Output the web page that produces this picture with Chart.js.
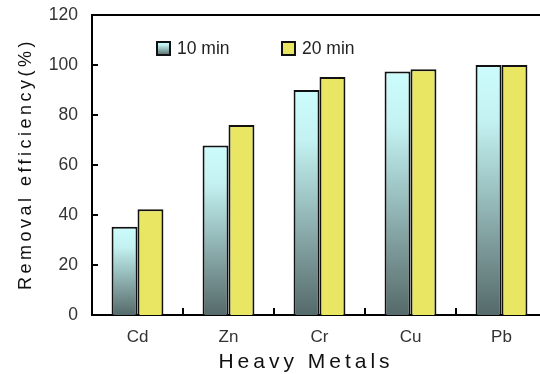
<!DOCTYPE html>
<html>
<head>
<meta charset="utf-8">
<script src="https://cdn.jsdelivr.net/npm/chart.js@4/dist/chart.umd.min.js"></script>
<style>
  html, body { margin: 0; padding: 0; background: #fff; overflow: hidden; }
  #wrap { width: 550px; height: 374px; }
</style>
</head>
<body>
<div id="wrap"><canvas id="c" width="550" height="374"></canvas></div>
<script>
// Removal efficiency of heavy metals after 10 and 20 minutes
const metals = ['Cd', 'Zn', 'Cr', 'Cu', 'Pb'];
const seriesLabels = ['10 min', '20 min'];
const removal10 = [35.3, 67.8, 90.0, 97.4, 100];
const removal20 = [42.3, 76.0, 95.2, 98.3, 100];
const yTicks = [0, 20, 40, 60, 80, 100, 120];

const FONT = '"Liberation Sans", Arial, Helvetica, sans-serif';
const YELLOW = '#e8e662';

// vertical cyan-to-slate fill spanning a box from top to bottom
function slateFill(ctx, top, bottom) {
  const g = ctx.createLinearGradient(0, top, 0, bottom);
  g.addColorStop(0, '#cdfcfc');
  g.addColorStop(0.22, '#c4f2f2');
  g.addColorStop(0.5, '#9cc2c2');
  g.addColorStop(0.78, '#759090');
  g.addColorStop(1, '#556a6a');
  return g;
}

function barGradient(context) {
  const chart = context.chart;
  const y = chart.scales.y;
  if (!chart.chartArea || !y) return '#9cc2c2';
  const v = context.raw;
  const top = y.getPixelForValue(v);
  const bottom = y.getPixelForValue(0);
  return slateFill(chart.ctx, top, bottom);
}

// inward tick marks, top frame line, legend and spaced axis titles
const decor = {
  id: 'decor',
  afterDatasetsDraw(chart) {
    const ctx = chart.ctx;
    const a = chart.chartArea;
    const xs = chart.scales.x, ys = chart.scales.y;
    ctx.save();
    ctx.strokeStyle = '#000';
    ctx.lineWidth = 2;
    ctx.beginPath();
    // top frame
    ctx.moveTo(a.left - 1, a.top);
    ctx.lineTo(a.right, a.top);
    // y ticks pointing into the plot
    yTicks.forEach(v => {
      if (v === 0 || v === 120) return;
      const py = ys.getPixelForValue(v);
      ctx.moveTo(a.left, py);
      ctx.lineTo(a.left + 6, py);
    });
    // x ticks at category boundaries
    for (let i = 0; i < metals.length - 1; i++) {
      const px = (xs.getPixelForValue(i) + xs.getPixelForValue(i + 1)) / 2;
      ctx.moveTo(px, a.bottom);
      ctx.lineTo(px, a.bottom - 7);
    }
    ctx.stroke();

    // legend
    ctx.font = '17.5px ' + FONT;
    ctx.textBaseline = 'middle';
    ctx.textAlign = 'left';
    const boxes = [157, 282];
    chart.data.datasets.forEach((ds, i) => {
      const bx = boxes[i], by = 42, s = 13;
      ctx.fillStyle = i === 0 ? slateFill(ctx, by, by + s) : YELLOW;
      ctx.fillRect(bx, by, s, s);
      ctx.lineWidth = 2;
      ctx.strokeStyle = '#111';
      ctx.strokeRect(bx, by, s, s);
      ctx.fillStyle = '#222';
      ctx.fillText(ds.label, bx + 20, by + 7);
    });

    // axis titles
    ctx.fillStyle = '#111';
    ctx.textAlign = 'center';
    ctx.letterSpacing = '4px';
    ctx.font = '21px ' + FONT;
    ctx.fillText('Heavy Metals', 306, 362);
    ctx.translate(26, 164);
    ctx.rotate(-Math.PI / 2);
    ctx.font = '18px ' + FONT;
    ctx.letterSpacing = '3.5px';
    ctx.fillText('Removal efficiency(%)', 0, 0);
    ctx.restore();
  }
};

new Chart(document.getElementById('c'), {
  type: 'bar',
  data: {
    labels: metals,
    datasets: [
      { label: seriesLabels[0], data: removal10, backgroundColor: barGradient,
        borderColor: '#111', borderWidth: 2, borderSkipped: 'bottom' },
      { label: seriesLabels[1], data: removal20, backgroundColor: YELLOW,
        borderColor: '#111', borderWidth: 2, borderSkipped: 'bottom' }
    ]
  },
  options: {
    responsive: false,
    animation: false,
    layout: { padding: { top: 15, right: 3, left: 0, bottom: 0 } },
    plugins: { legend: { display: false }, tooltip: { enabled: false } },
    datasets: { bar: { categoryPercentage: 0.57, barPercentage: 1.0 } },
    scales: {
      x: {
        grid: { display: false, drawTicks: false },
        border: { display: true, color: '#000', width: 2 },
        ticks: { color: '#333', font: { family: FONT, size: 17 }, padding: 12 },
        afterFit(s) { s.height = 59; s.paddingLeft = 0; s.paddingRight = 0; }
      },
      y: {
        min: 0, max: 120,
        afterBuildTicks(s) { s.ticks = yTicks.map(v => ({ value: v })); },
        grid: { display: false, drawTicks: false },
        border: { display: true, color: '#000', width: 2 },
        ticks: { color: '#333', font: { family: FONT, size: 17.5 }, padding: 14 },
        afterFit(s) { s.width = 92; s.paddingTop = 0; s.paddingBottom = 0; }
      }
    }
  },
  plugins: [decor]
});
</script>
</body>
</html>
